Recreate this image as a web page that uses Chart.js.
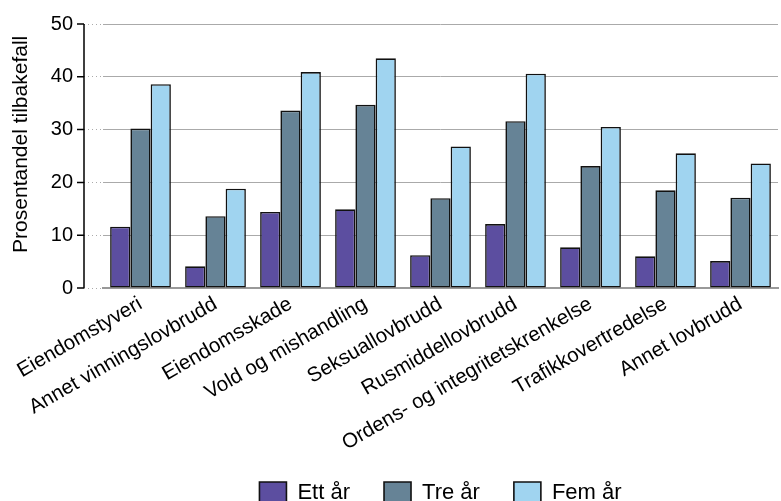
<!DOCTYPE html>
<html>
<head>
<meta charset="utf-8">
<script src="https://cdn.jsdelivr.net/npm/chart.js"></script>
<style>
  html, body { margin: 0; padding: 0; background: #fff; overflow: hidden; }
  #wrap { width: 781px; height: 514px; position: relative; }
</style>
</head>
<body>
<div id="wrap"><canvas id="myChart"></canvas></div>
<script>
const categories = [
  'Eiendomstyveri',
  'Annet vinningslovbrudd',
  'Eiendomsskade',
  'Vold og mishandling',
  'Seksuallovbrudd',
  'Rusmiddellovbrudd',
  'Ordens- og integritetskrenkelse',
  'Trafikkovertredelse',
  'Annet lovbrudd'
];
const ettAr = [11.6, 4.1, 14.4, 14.9, 6.2, 12.1, 7.7, 6.0, 5.1];
const treAr = [30.2, 13.6, 33.6, 34.7, 17.0, 31.6, 23.1, 18.5, 17.1];
const femAr = [38.6, 18.8, 40.9, 43.5, 26.8, 40.6, 30.5, 25.5, 23.6];
const yTicks = [0, 10, 20, 30, 40, 50];

const FONT = '"Liberation Sans", Arial, Helvetica, sans-serif';

// solid y axis line + tick marks, drawn a bit left of the plot area
const yAxisLine = {
  id: 'yAxisLine',
  afterDraw(chart) {
    const ctx = chart.ctx;
    const y = chart.scales.y;
    const x0 = chart.chartArea.left - 19;
    ctx.save();
    ctx.strokeStyle = '#000';
    ctx.lineWidth = 1.5;
    ctx.beginPath();
    ctx.moveTo(x0, y.getPixelForValue(yTicks[yTicks.length - 1]));
    ctx.lineTo(x0, y.getPixelForValue(0));
    yTicks.forEach(function(t) {
      const py = y.getPixelForValue(t);
      ctx.moveTo(x0 - 7, py);
      ctx.lineTo(x0, py);
    });
    ctx.stroke();
    ctx.restore();
  }
};

const data = {
  labels: categories,
  datasets: [
    { label: 'Ett år', data: ettAr, backgroundColor: '#5c4ea0' },
    { label: 'Tre år', data: treAr, backgroundColor: '#668396' },
    { label: 'Fem år', data: femAr, backgroundColor: '#a0d4f0' }
  ].map(function(d) {
    return Object.assign(d, {
      borderColor: '#111',
      borderWidth: 1.6,
      borderSkipped: false,
      categoryPercentage: 0.81,
      barPercentage: 1.0
    });
  })
};

const config = {
  type: 'bar',
  data: data,
  plugins: [yAxisLine],
  options: {
    responsive: true,
    maintainAspectRatio: false,
    animation: false,
    layout: { padding: { top: 24, right: 3, left: 0, bottom: 0 } },
    plugins: {
      tooltip: { enabled: false },
      legend: {
        position: 'bottom',
        fullSize: false,
        labels: {
          color: '#000',
          font: { family: FONT, size: 22 },
          boxWidth: 27,
          boxHeight: 22,
          padding: 34
        }
      }
    },
    scales: {
      x: {
        afterFit: function(scale) { scale.height = 160; },
        grid: { display: false, drawTicks: false },
        border: { display: true, color: '#999', width: 2 },
        ticks: {
          color: '#000',
          font: { family: FONT, size: 20.5 },
          autoSkip: false,
          maxRotation: 30,
          minRotation: 30,
          padding: 4
        }
      },
      y: {
        min: 0,
        max: 50,
        afterFit: function(scale) { scale.width = 103; },
        afterBuildTicks: function(scale) {
          scale.ticks = yTicks.map(function(v) { return { value: v }; });
        },
        border: { display: false },
        grid: {
          color: '#aaa',
          lineWidth: 1,
          borderDash: [1, 3],
          tickLength: 19,
          tickColor: '#aaa',
          tickBorderDash: [1, 3]
        },
        ticks: {
          color: '#000',
          font: { family: FONT, size: 20 },
          padding: 11
        },
        title: {
          display: true,
          text: '    Prosentandel tilbakefall',
          color: '#000',
          font: { family: FONT, size: 21 },
          padding: { top: 9, bottom: 4 }
        }
      }
    }
  }
};

const myChart = new Chart(document.getElementById('myChart'), config);
</script>
</body>
</html>
